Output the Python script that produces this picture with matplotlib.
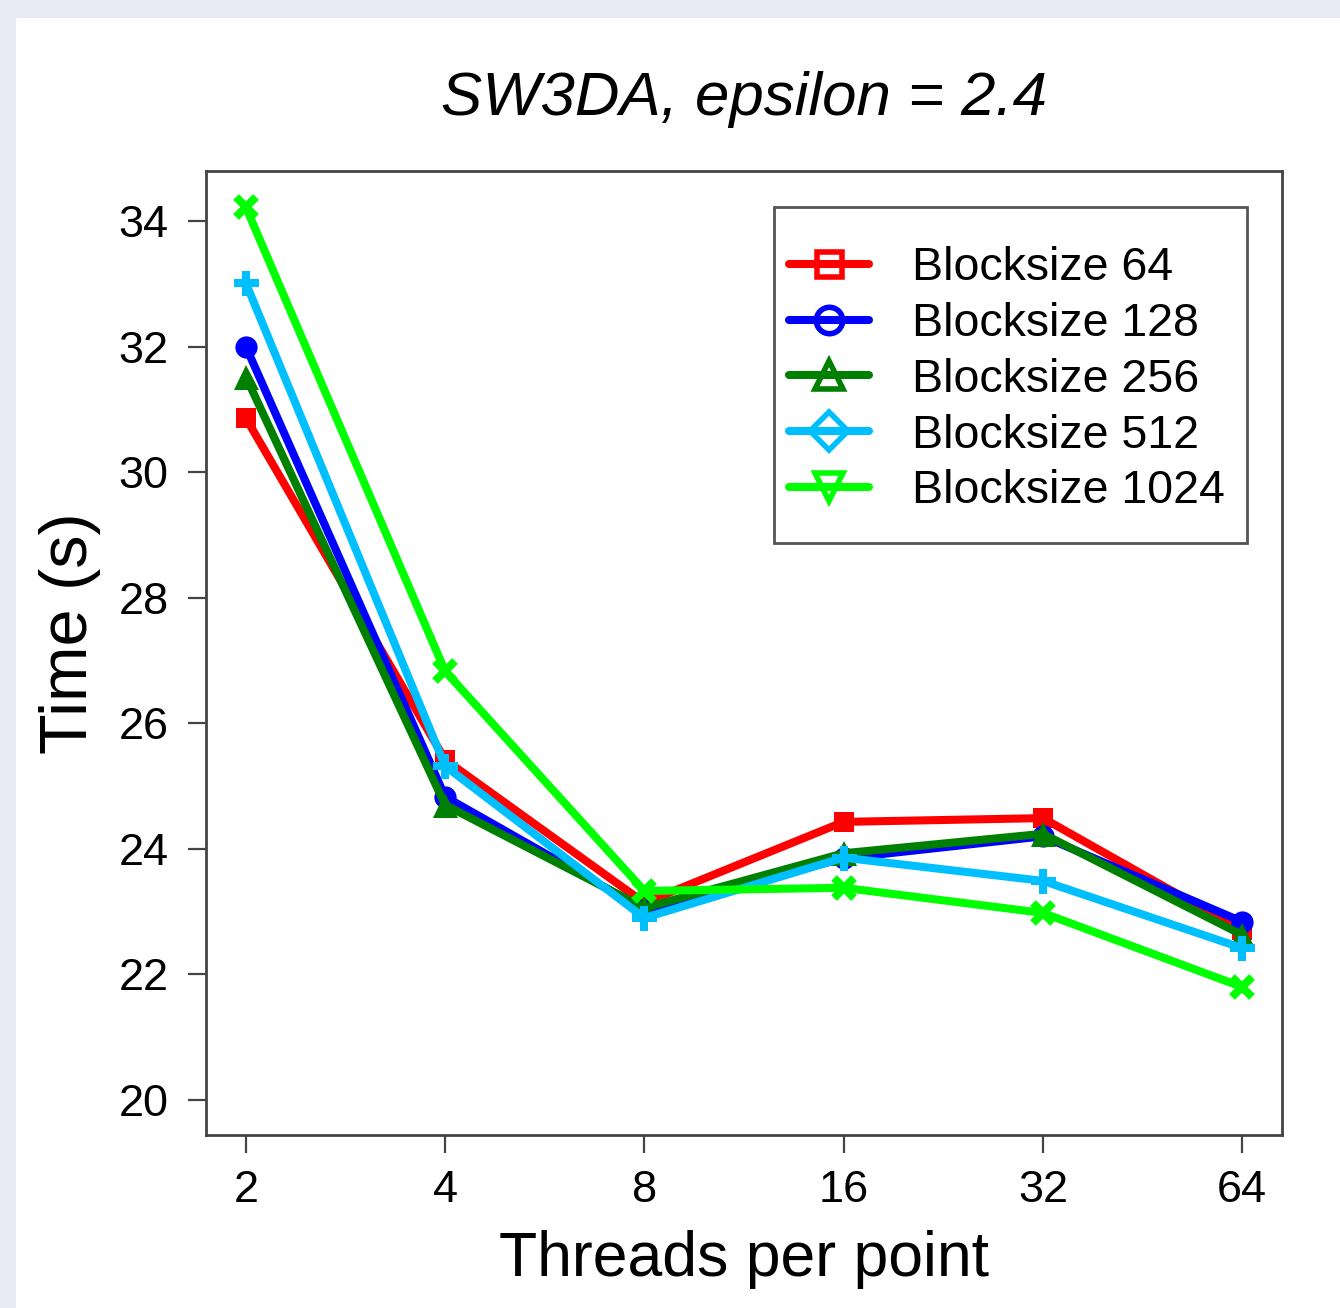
import matplotlib
matplotlib.use("Agg")
import matplotlib.pyplot as plt
from matplotlib.lines import Line2D
from matplotlib.patches import Rectangle

threads = ["2", "4", "8", "16", "32", "64"]
bs64 = [30.86, 25.42, 23.14, 24.43, 24.49, 22.70]
bs128 = [32.00, 24.83, 23.03, 23.85, 24.20, 22.84]
bs256 = [31.52, 24.70, 23.06, 23.93, 24.24, 22.63]
bs512 = [33.01, 25.32, 22.90, 23.86, 23.49, 22.42]
bs1024 = [34.22, 26.83, 23.33, 23.38, 22.98, 21.80]
labels = ["Blocksize 64", "Blocksize 128", "Blocksize 256", "Blocksize 512", "Blocksize 1024"]
yticks = [20, 22, 24, 26, 28, 30, 32, 34]

plt.rcParams['font.family'] = ['Liberation Sans', 'DejaVu Sans']

W, H = 1340, 1308
fig = plt.figure(figsize=(W / 100, H / 100), dpi=100)
fig.patch.set_facecolor('#EAEAF5')
fig.add_artist(Rectangle((16 / W, 0), 1 - 16 / W, 1 - 18 / H, transform=fig.transFigure,
                         facecolor='white', edgecolor='none', zorder=0))

ax = fig.add_axes([206 / W, 1 - 1135 / H, (1282 - 206) / W, (1135 - 171) / H])
ax.set_facecolor('white')

series = [bs64, bs128, bs256, bs512, bs1024]
colors = ['#FF0000', '#0000FF', '#008000', '#00BFFF', '#00FF00']
pmarkers = ['s', 'o', '^', '+', 'x']
psizes = [15, 16, 18, 18, 15]
lmarkers = ['s', 'o', '^', 'D', 'v']
lsizes = [18, 19, 20, 19, 20]
xs = list(range(1, len(threads) + 1))

for vals, c, m, ms in zip(series, colors, pmarkers, psizes):
    if m in ('+', 'x'):
        ax.plot(xs, vals, color=c, lw=5.8, marker=m, markersize=ms, markeredgewidth=5.8,
                solid_joinstyle='round', solid_capstyle='round')
    else:
        ax.plot(xs, vals, color=c, lw=5.8, marker=m, markersize=ms, markeredgewidth=0,
                markerfacecolor=c, solid_joinstyle='round', solid_capstyle='round')

ax.set_xlim(0.8, 6.2)
ax.set_ylim(19.443, 34.796)
ax.set_xticks(xs)
ax.set_xticklabels(threads)
ax.set_yticks(yticks)
ax.set_yticklabels([str(v) for v in yticks])
ax.tick_params(axis='both', direction='out', length=13, width=1.6, color='#444444',
               labelsize=32.5)
ax.tick_params(axis='x', pad=12)
ax.tick_params(axis='y', pad=14)
for s in ax.spines.values():
    s.set_color('#444444')
    s.set_linewidth(2)

ax.set_xlabel("Threads per point", fontsize=45, labelpad=14)
ax.set_ylabel("Time (s)", fontsize=48)
ax.yaxis.set_label_coords((101 - 206) / 1076, (1135 - 633) / 964)
ax.set_title("SW3DA, epsilon = 2.4", fontsize=44.5, style='italic', pad=40)

handles = [Line2D([0], [0], color=c, lw=5.8, marker=m, markersize=ms, markeredgewidth=4,
                  markerfacecolor='none', markeredgecolor=c, solid_capstyle='round')
           for c, m, ms in zip(colors, lmarkers, lsizes)]
leg = ax.legend(handles, labels, loc='upper left',
                bbox_to_anchor=((789 - 206) / 1076, (1135 - 246) / 964),
                fontsize=33.5, frameon=False, handlelength=1.72,
                handletextpad=0.92, labelspacing=0.255, borderpad=0, borderaxespad=0)
ax.add_patch(Rectangle(((774 - 206) / 1076, (1135 - 543) / 964), 473 / 1076, 336 / 964,
                       transform=ax.transAxes, facecolor='none', edgecolor='#555555',
                       linewidth=2, zorder=5))

fig.savefig("out.png", dpi=100, facecolor=fig.get_facecolor())
